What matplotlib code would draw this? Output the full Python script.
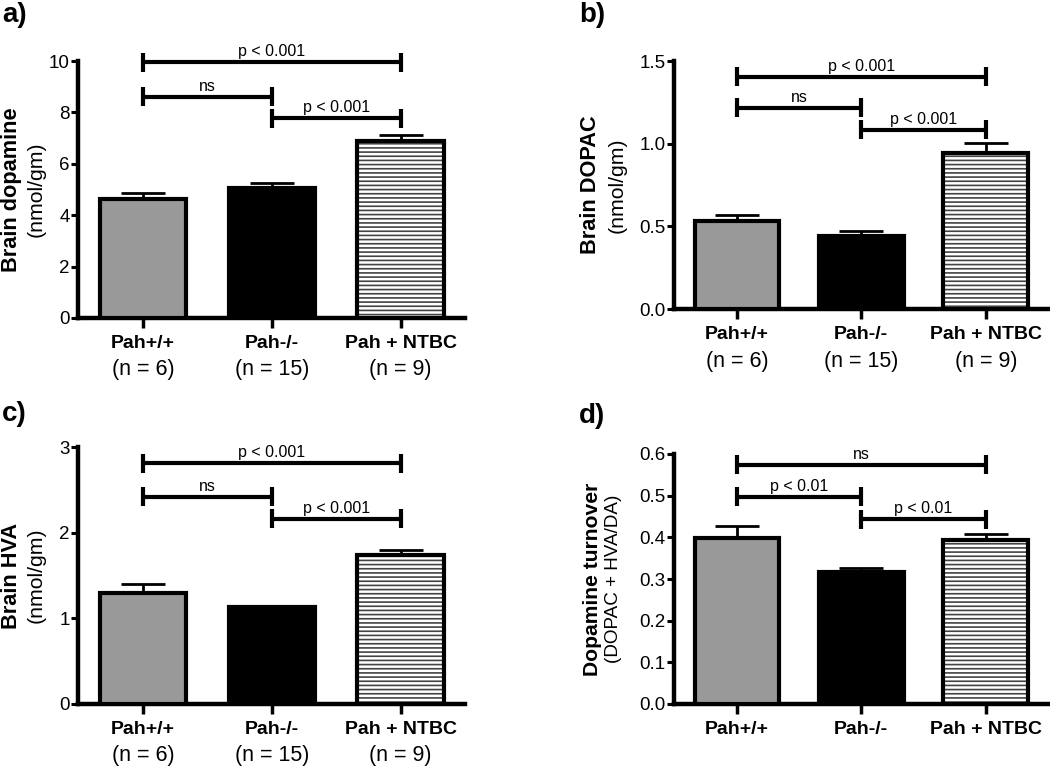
import matplotlib
matplotlib.use("Agg")
import matplotlib.pyplot as plt
import numpy as np

plt.rcParams['font.family'] = ['Liberation Sans', 'DejaVu Sans']
plt.rcParams['hatch.linewidth'] = 1.2

groups = ["Pah+/+", "Pah-/-", "Pah + NTBC"]
n_labels = ["(n = 6)", "(n = 15)", "(n = 9)"]

dopamine_mean = [4.64, 5.07, 6.89]
dopamine_sem = [0.23, 0.19, 0.23]
dopac_mean = [0.535, 0.439, 0.946]
dopac_sem = [0.031, 0.030, 0.057]
hva_mean = [1.30, 1.13, 1.74]
hva_sem = [0.10, 0.01, 0.06]
turnover_mean = [0.398, 0.316, 0.394]
turnover_sem = [0.030, 0.010, 0.014]

# brackets: (i, j, y, label)
dopamine_br = [(0, 2, 9.95, "p < 0.001"), (0, 1, 8.61, "ns"), (1, 2, 7.77, "p < 0.001")]
dopac_br = [(0, 2, 1.405, "p < 0.001"), (0, 1, 1.218, "ns"), (1, 2, 1.083, "p < 0.001")]
hva_br = [(0, 2, 2.81, "p < 0.001"), (0, 1, 2.42, "ns"), (1, 2, 2.16, "p < 0.001")]
turnover_br = [(0, 2, 0.574, "ns"), (0, 1, 0.498, "p < 0.01"), (1, 2, 0.443, "p < 0.01")]

dopamine_ticks = [0, 2, 4, 6, 8, 10]
dopac_ticks = [0.0, 0.5, 1.0, 1.5]
hva_ticks = [0, 1, 2, 3]
turnover_ticks = [0.0, 0.1, 0.2, 0.3, 0.4, 0.5, 0.6]

W, H = 1050, 770
fig = plt.figure(figsize=(W / 100, H / 100), dpi=100)

def px_axes(l, t, r, b):
    return fig.add_axes([l / W, 1 - b / H, (r - l) / W, (b - t) / H])

def panel(rect, means, sems, brs, ticks, ticklabels, letter, letter_xy,
          ylab1, ylab2, ylab_x1, ylab_x2, ylab1_size, ylab2_size, show_n, bar_w):
    ax = px_axes(*rect)
    x = np.arange(3)
    ymax = ticks[-1]
    ax.set_xlim(-0.505, 2.5)
    ax.set_ylim(0, ymax)
    ax.bar(x[:1], means[:1], width=bar_w, color='#999999', edgecolor='black', linewidth=3, zorder=3)
    ax.bar(x[1:2], means[1:2], width=bar_w, color='black', edgecolor='black', linewidth=3, zorder=3)
    ax.bar(x[2:], means[2:], width=bar_w, color='white', edgecolor='#444444', hatch='----', linewidth=0, zorder=3)
    ax.bar(x[2:], means[2:], width=bar_w, fill=False, edgecolor='black', linewidth=3, zorder=4)
    ax.errorbar(x, means, yerr=[np.zeros(3), sems], fmt='none', ecolor='black',
                elinewidth=2, capsize=16, capthick=2, zorder=2)
    for s in ['top', 'right']:
        ax.spines[s].set_visible(False)
    for s in ['left', 'bottom']:
        ax.spines[s].set_linewidth(3.2)
    ax.set_yticks(ticks)
    ax.set_yticklabels(ticklabels, fontsize=13.5)
    ax.tick_params(axis='y', length=5, width=2.2, pad=1)
    ax.set_xticks(x)
    ax.set_xticklabels(groups, fontsize=14, fontweight='bold')
    ax.tick_params(axis='x', length=7, width=2.5, pad=5)
    ax_h_px = rect[3] - rect[1]
    half = 9.5 / ax_h_px * ymax
    for i, j, y, lab in brs:
        ax.plot([i, j], [y, y], color='black', lw=3, clip_on=False, solid_capstyle='butt')
        for k in (i, j):
            ax.plot([k, k], [y - half, y + half], color='black', lw=3, clip_on=False, solid_capstyle='butt')
        ax.annotate(lab, xy=((i + j) / 2, y), xytext=(0, 3), textcoords='offset pixels',
                    ha='center', va='bottom', fontsize=11.5, annotation_clip=False)
    if show_n:
        for k, t in enumerate(n_labels):
            ax.annotate(t, xy=(k, 0), xycoords=('data', 'axes fraction'),
                        xytext=(0, -52), textcoords='offset pixels',
                        ha='center', va='center', fontsize=15.5, annotation_clip=False)
    cy = 1 - (rect[1] + rect[3]) / 2 / H
    fig.text(ylab_x1 / W, cy, ylab1, rotation=90, ha='center', va='center',
             fontsize=ylab1_size, fontweight='bold')
    fig.text(ylab_x2 / W, cy, ylab2, rotation=90, ha='center', va='center',
             fontsize=ylab2_size)
    fig.text(letter_xy[0] / W, 1 - letter_xy[1] / H, letter, ha='left', va='center',
             fontsize=20, fontweight='bold')
    return ax

panel((78, 61, 465, 318), dopamine_mean, dopamine_sem, dopamine_br,
      dopamine_ticks, [str(t) for t in dopamine_ticks], "a)", (2, 15),
      "Brain dopamine", "(nmol/gm)", 12, 36, 15.7, 15.3, True, 0.67)
panel((674, 61, 1048, 309), dopac_mean, dopac_sem, dopac_br,
      dopac_ticks, ["%.1f" % t for t in dopac_ticks], "b)", (579, 15),
      "Brain DOPAC", "(nmol/gm)", 591, 617, 15.7, 15.3, True, 0.68)
panel((78, 447, 465, 704), hva_mean, hva_sem, hva_br,
      hva_ticks, [str(t) for t in hva_ticks], "c)", (2, 414),
      "Brain HVA", "(nmol/gm)", 12, 36, 15.7, 15.3, True, 0.67)
panel((674, 454, 1048, 704), turnover_mean, turnover_sem, turnover_br,
      turnover_ticks, ["%.1f" % t for t in turnover_ticks], "d)", (579, 416),
      "Dopamine turnover", "(DOPAC + HVA/DA)", 592, 614, 15.2, 13.6, False, 0.68)

fig.savefig("out.png", dpi=100)
